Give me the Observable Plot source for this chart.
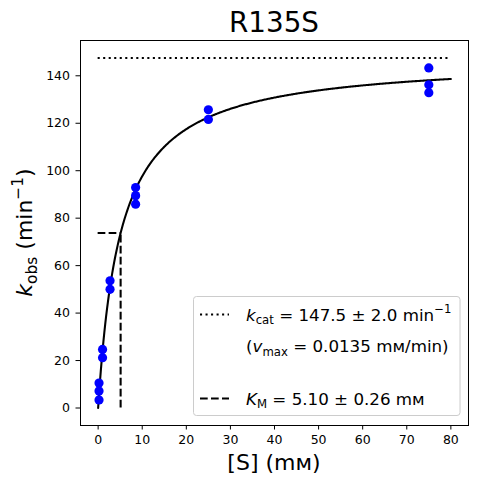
<!DOCTYPE html>
<html><head><meta charset="utf-8">
<script src="https://cdn.jsdelivr.net/npm/d3@7"></script>
<script src="https://cdn.jsdelivr.net/npm/@observablehq/plot@0.6"></script>
<style>body{margin:0;background:#fff} svg{font-family:"DejaVu Sans";}</style>
</head><body><div id="chart"></div>
<script>
// measured data
const substrate = [0.2, 0.2, 0.2, 1, 1, 2.7, 2.7, 8.5, 8.5, 8.5, 25, 25, 75, 75, 75];
const kobs      = [3.4, 7.2, 10.5, 21.2, 24.7, 50.0, 53.6, 85.9, 89.5, 92.9, 121.6, 125.7, 132.9, 136.2, 143.3];
// fitted parameters
const kcat = 147.5, kcatErr = 2.0, KM = 5.10, KMErr = 0.26, vmax = 0.0135;
const xTicks = [0, 10, 20, 30, 40, 50, 60, 70, 80];
const yTicks = [0, 20, 40, 60, 80, 100, 120, 140];
const fitRange = [0, 80];

const points = substrate.map((s, i) => ({s, k: kobs[i]}));
const fit = d3.range(fitRange[0], fitRange[1] + 1e-9, 0.2).map(s => ({s, k: kcat * s / (KM + s)}));

const W = 477, H = 484, mL = 80, mR = 9, mT = 40, mB = 59;
const lw = 2.08;
const chart = Plot.plot({
  width: W, height: H, marginLeft: mL, marginRight: mR, marginTop: mT, marginBottom: mB,
  style: {fontFamily: "DejaVu Sans", fontSize: "12.5px", color: "black", background: "white"},
  x: {domain: [-4, 84], ticks: xTicks, label: null},
  y: {domain: [-7.375, 154.875], ticks: yTicks, label: null},
  marks: [
    Plot.axisX({ticks: xTicks, tickSize: 4.5, tickPadding: 5, label: null, stroke: "black"}),
    Plot.axisY({ticks: yTicks, tickSize: 4.5, tickPadding: 6, label: null, stroke: "black"}),
    Plot.ruleY([kcat], {x1: fitRange[0], x2: fitRange[1], stroke: "black", strokeWidth: lw, strokeDasharray: "2.08,3.44"}),
    Plot.line(fit, {x: "s", y: "k", stroke: "black", strokeWidth: lw}),
    Plot.ruleY([kcat / 2], {x1: 0, x2: KM, stroke: "black", strokeWidth: lw, strokeDasharray: "7.7,3.3"}),
    Plot.ruleX([KM], {y1: 0, y2: kcat / 2, stroke: "black", strokeWidth: lw, strokeDasharray: "7.7,3.3"}),
    Plot.dot(points, {x: "s", y: "k", r: 4.6, fill: "blue", stroke: "none"}),
    Plot.frame({stroke: "black", strokeWidth: 1})
  ]
});
document.getElementById("chart").appendChild(chart);
const svg = d3.select(chart);

function rich(g, segs, size, anchor) {
  const t = g.append("text").attr("font-size", size).attr("fill", "black").attr("text-anchor", anchor || "start");
  let shift = 0;
  for (const s of segs) {
    const sp = t.append("tspan").text(s.t);
    let target = 0;
    if (s.i) sp.attr("font-style", "italic");
    if (s.sub) { sp.attr("font-size", size * 0.7); target = size * 0.22; }
    if (s.sup) { sp.attr("font-size", size * 0.7); target = -size * 0.42; }
    if (target !== shift) { sp.attr("dy", target - shift); shift = target; }
  }
  return t;
}

const cx = mL + (W - mL - mR) / 2;
// title
svg.append("text").attr("x", cx).attr("y", 32).attr("text-anchor", "middle")
  .attr("font-size", 27.8).attr("fill", "black").text("R135S");
// x label
svg.append("text").attr("x", cx).attr("y", 470).attr("text-anchor", "middle")
  .attr("font-size", 22).attr("fill", "black").text("[S] (mᴍ)");
// y label
const gy = svg.append("g").attr("transform", `translate(32,${mT + (H - mT - mB) / 2}) rotate(-90)`);
rich(gy, [{t: "k", i: 1}, {t: "obs", sub: 1}, {t: " (min"}, {t: "−1", sup: 1}, {t: ")"}], 22, "middle");

// legend
const lg = svg.append("g");
lg.append("rect").attr("x", 193.5).attr("y", 296.5).attr("width", 266.5).attr("height", 119)
  .attr("rx", 3).attr("fill", "white").attr("fill-opacity", 0.8).attr("stroke", "#cccccc").attr("stroke-width", 1);
lg.append("line").attr("x1", 200).attr("x2", 229).attr("y1", 314.5).attr("y2", 314.5)
  .attr("stroke", "black").attr("stroke-width", lw).attr("stroke-dasharray", "2.08,3.44");
lg.append("line").attr("x1", 200).attr("x2", 229).attr("y1", 398.5).attr("y2", 398.5)
  .attr("stroke", "black").attr("stroke-width", lw).attr("stroke-dasharray", "7.7,3.3");
const fs = 16.7;
rich(lg, [{t: "k", i: 1}, {t: "cat", sub: 1}, {t: ` = ${kcat.toFixed(1)} ± ${kcatErr.toFixed(1)} min`}, {t: "−1", sup: 1}], fs)
  .attr("x", 246).attr("y", 320.5);
rich(lg, [{t: "("}, {t: "v", i: 1}, {t: "max", sub: 1}, {t: ` = ${vmax.toFixed(4)} mᴍ/min)`}], fs)
  .attr("x", 246).attr("y", 352);
rich(lg, [{t: "K", i: 1}, {t: "M", sub: 1}, {t: ` = ${KM.toFixed(2)} ± ${KMErr.toFixed(2)} mᴍ`}], fs)
  .attr("x", 246).attr("y", 404.5);
</script></body></html>
